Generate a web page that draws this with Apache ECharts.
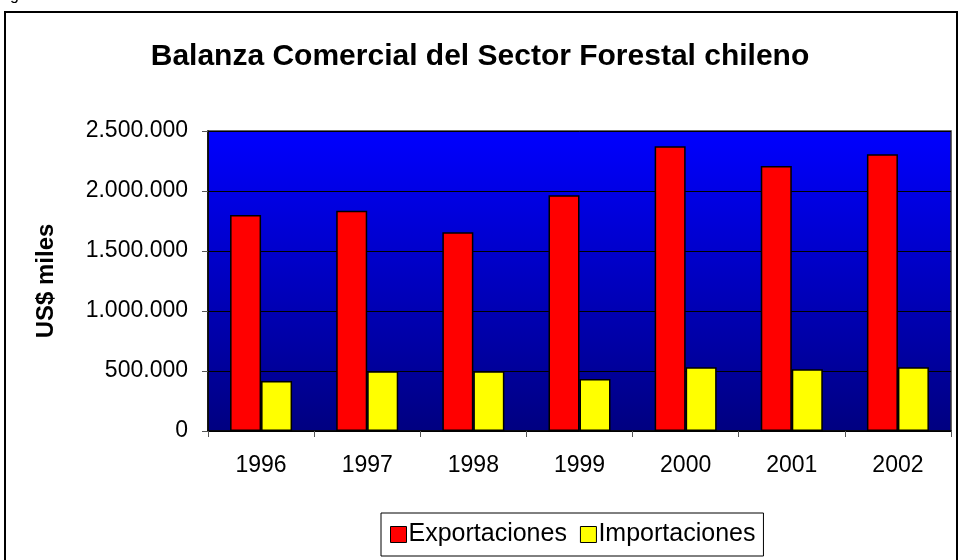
<!DOCTYPE html>
<html>
<head>
<meta charset="utf-8">
<script src="https://cdn.jsdelivr.net/npm/echarts@6/dist/echarts.min.js"></script>
<style>html,body{margin:0;padding:0;background:#fff}#c{width:960px;height:560px}</style>
</head>
<body>
<div id="c"></div>
<script>
const categories = ['1996','1997','1998','1999','2000','2001','2002'];
const exportaciones = [1800000, 1836000, 1656000, 1964000, 2373000, 2208000, 2306000];
const importaciones = [417000, 497000, 497000, 433000, 531000, 514000, 531000];
const yTicks = [0, 500000, 1000000, 1500000, 2000000, 2500000];

const FONT = '"Liberation Sans", Arial, sans-serif';
function fmt(v){ return String(v).replace(/\B(?=(\d{3})+(?!\d))/g, '.'); }

const chart = echarts.init(document.getElementById('c'), null, {renderer:'canvas'});
chart.setOption({
  animation: false,
  textStyle: {fontFamily: FONT},
  title: {
    text: 'Balanza Comercial del Sector Forestal chileno',
    left: 'center', top: 37,
    textStyle: {fontFamily: FONT, fontSize: 30, fontWeight: 'bold', color: '#000'}
  },
  graphic: [
    {type:'rect', shape:{x:5, y:12, width:952, height:600}, style:{fill:'none', stroke:'#000', lineWidth:2}, z:-1},
    {type:'text', left:10, top:-12, style:{text:'g', font:'16px "Liberation Sans", Arial', fill:'#000'}}
  ],
  legend: {
    data: ['Exportaciones','Importaciones'],
    left: 381, top: 513,
    icon: 'rect',
    itemWidth: 16, itemHeight: 16, itemGap: 13,
    padding: [9, 8, 9, 9],
    borderColor: '#000', borderWidth: 1,
    itemStyle: {borderColor:'#000', borderWidth:1},
    textStyle: {fontFamily: FONT, fontSize: 25, color: '#000', padding:[0,0,0,-3]}
  },
  grid: {
    left: 208, right: 9, top: 131, bottom: 129,
    show: true,
    backgroundColor: new echarts.graphic.LinearGradient(0,0,0,1,[{offset:0,color:'#0000FF'},{offset:1,color:'#000080'}]),
    borderColor: '#333', borderWidth: 1.5
  },
  xAxis: {
    type: 'category', data: categories,
    axisLine: {lineStyle:{color:'#000', width:1.5}},
    axisTick: {show:true, length:6, lineStyle:{color:'#555'}},
    axisLabel: {fontFamily: FONT, fontSize: 23, color:'#000', margin: 23}
  },
  yAxis: {
    type: 'value', min: 0, max: 2500000, interval: 500000,
    name: 'US$ miles', nameLocation: 'middle', nameGap: 150, nameRotate: 90,
    nameTextStyle: {fontFamily: FONT, fontSize: 24, fontWeight:'bold', color:'#000'},
    axisLine: {show:true, lineStyle:{color:'#000', width:1.5}},
    axisTick: {show:true, length:6, lineStyle:{color:'#555'}},
    splitLine: {show:true, lineStyle:{color:'#000', width:1}},
    axisLabel: {fontFamily: FONT, fontSize: 23, color:'#000', margin: 20,
      formatter: v => yTicks.includes(v) ? fmt(v) : ''}
  },
  series: [
    {name:'Exportaciones', type:'bar', data: exportaciones, barWidth: 31, barGap: '0%',
     itemStyle:{color:'#FF0000', borderColor:'#000', borderWidth:1.5}},
    {name:'Importaciones', type:'bar', data: importaciones, barWidth: 31, barGap: '0%',
     itemStyle:{color:'#FFFF00', borderColor:'#000', borderWidth:1.5}}
  ]
});
</script>
</body>
</html>
